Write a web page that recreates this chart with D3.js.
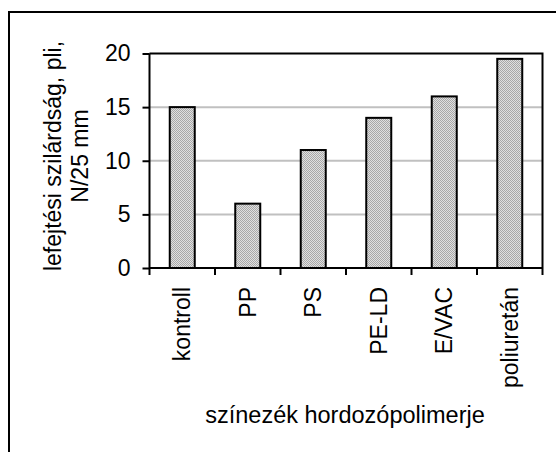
<!DOCTYPE html>
<html><head><meta charset="utf-8">
<script src="https://cdn.jsdelivr.net/npm/d3@7"></script>
<style>body{margin:0;background:#fff}svg{display:block}</style>
</head><body>
<script>
const categories = ["kontroll", "PP", "PS", "PE-LD", "E/VAC", "poliuretán"];
const values = [15, 6, 11, 14, 16, 19.5];
const yTicks = [0, 5, 10, 15, 20];
const xTitle = "színezék hordozópolimerje";
const yTitle = ["lefejtési szilárdság, pli,", "N/25 mm"];

const W = 556, H = 452;
const m = {left: 149.5, right: 542.5, top: 53.5, bottom: 268};
const font = "Liberation Sans, Arial, sans-serif";
const fs = 23;

const svg = d3.select("body").append("svg").attr("width", W).attr("height", H);
const defs = svg.append("defs");
const pat = defs.append("pattern").attr("id", "chk").attr("width", 2).attr("height", 2).attr("patternUnits", "userSpaceOnUse");
pat.append("rect").attr("width", 2).attr("height", 2).attr("fill", "#e0e0e0");
pat.append("rect").attr("width", 1).attr("height", 1).attr("fill", "#a8a8a8");
pat.append("rect").attr("x", 1).attr("y", 1).attr("width", 1).attr("height", 1).attr("fill", "#a8a8a8");

// outer border
svg.append("rect").attr("x", 9).attr("y", 12).attr("width", 560).attr("height", 460)
  .attr("fill", "none").attr("stroke", "#000").attr("stroke-width", 2);

const x = d3.scaleBand().domain(categories).range([m.left, m.right]).paddingInner(0).paddingOuter(0);
const y = d3.scaleLinear().domain([0, 20]).range([m.bottom, m.top]);

// gridlines
svg.append("g").selectAll("line").data(yTicks.filter(d => d > 0 && d < 20)).join("line")
  .attr("x1", m.left).attr("x2", m.right).attr("y1", d => y(d)).attr("y2", d => y(d))
  .attr("stroke", "#c0c0c0").attr("stroke-width", 2);

// frame top and right
svg.append("path").attr("d", `M${m.left},${m.top}H${m.right}V${m.bottom}`)
  .attr("fill", "none").attr("stroke", "#000").attr("stroke-width", 2);

// bars
const bw = 25;
svg.append("g").selectAll("rect").data(categories).join("rect")
  .attr("x", d => x(d) + x.bandwidth() / 2 - bw / 2)
  .attr("y", (d, i) => y(values[i]))
  .attr("width", bw)
  .attr("height", (d, i) => y(0) - y(values[i]))
  .attr("fill", "url(#chk)").attr("stroke", "#000").attr("stroke-width", 2);

// y axis
const yAxis = d3.axisLeft(y).tickValues(yTicks).tickSize(7).tickPadding(12);
const gy = svg.append("g").attr("transform", `translate(${m.left},0)`).call(yAxis);
gy.select(".domain").attr("stroke-width", 2).attr("d", `M0,${m.top}V${m.bottom}`);
gy.selectAll(".tick line").attr("stroke-width", 2);
gy.selectAll("text").attr("font-family", font).attr("font-size", fs).attr("fill", "#000");

// x axis
const xAxis = d3.axisBottom(x).tickSize(0).tickFormat("");
const gx = svg.append("g").attr("transform", `translate(0,${m.bottom})`).call(xAxis);
gx.select(".domain").attr("stroke-width", 2).attr("d", `M${m.left},0H${m.right}`);
gx.selectAll(".tick").remove();
const bounds = categories.map(c => x(c)).concat([m.right]);
gx.selectAll("line.b").data(bounds).join("line").attr("class", "b")
  .attr("x1", d => d).attr("x2", d => d).attr("y1", 0).attr("y2", 7)
  .attr("stroke", "#000").attr("stroke-width", 2);
gx.selectAll("text.lab").data(categories).join("text").attr("class", "lab")
  .attr("transform", d => `translate(${x(d) + x.bandwidth() / 2 + 8},19) rotate(-90)`)
  .attr("text-anchor", "end")
  .attr("font-family", font).attr("font-size", fs).attr("fill", "#000")
  .text(d => d);

// x title
svg.append("text").attr("x", 345).attr("y", 423).attr("text-anchor", "middle")
  .attr("font-family", font).attr("font-size", 23.5).attr("fill", "#000").text(xTitle);

// y title
const yt = svg.append("text").attr("transform", `translate(61,156) rotate(-90)`)
  .attr("text-anchor", "middle").attr("font-family", font).attr("font-size", fs).attr("fill", "#000");
yTitle.forEach((t, i) => yt.append("tspan").attr("x", 0).attr("dy", i === 0 ? 0 : 27).text(t));
</script>
</body></html>
